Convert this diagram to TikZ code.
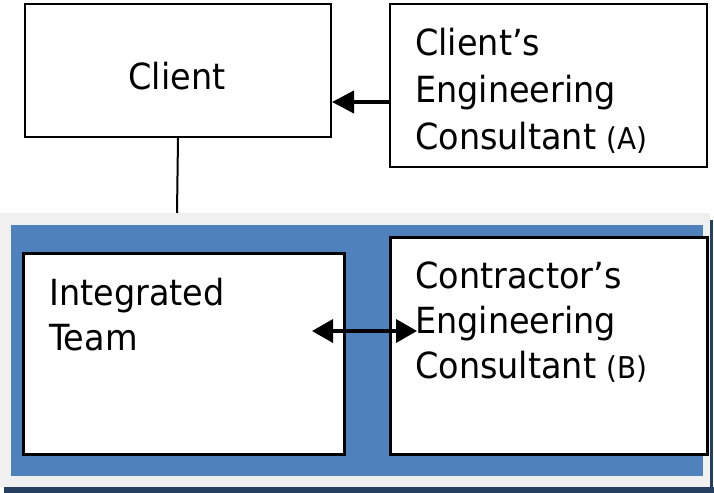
\documentclass[tikz,border=0pt]{standalone}
\usepackage{fontspec}
\setmainfont{DejaVu Sans}[FakeStretch=0.93]
\usetikzlibrary{arrows.meta}
\definecolor{panelblue}{HTML}{4F81BD}
\definecolor{panelgray}{HTML}{F0F0F0}
\definecolor{paneldark}{HTML}{243F60}
\newcommand{\abtag}[1]{{\fontsize{30bp}{30bp}\selectfont #1}}

\begin{document}
\begin{tikzpicture}[x=1bp, y=-1bp,
  box/.style={draw, fill=white, line width=2bp, inner sep=0pt, anchor=north west},
  teambox/.style={box, line width=3bp},
  words/.style={inner sep=0pt, anchor=north west, align=left, font=\fontsize{36bp}{47bp}\selectfont},
  link/.style={line width=4bp, -{Triangle[length=22bp, width=22bp]}},
  twoway/.style={line width=3.5bp, {Triangle[length=21bp, width=23bp]}-{Triangle[length=21bp, width=23bp]}}]
  \useasboundingbox (0,0) rectangle (714,493);
  % shaded panel behind the team
  \fill[paneldark] (4,487) rectangle (714,493);
  \fill[paneldark] (710,220) rectangle (713,493);
  \fill[panelgray] (0,213) rectangle (710,487);
  \fill[panelblue] (11,225) rectangle (703,476);
  \coordinate (paneltop) at (177,213);

  % top row
  \node[box, minimum width=306bp, minimum height=133bp] (client) at (24,3) {};
  \node[font=\fontsize{36bp}{47bp}\selectfont, inner sep=0pt, anchor=base] (clienttxt) at (177,90) {Client};
  \node[box, minimum width=317bp, minimum height=163bp] (consA) at (389,3) {};
  \node[words] (consAtxt) at (415,27.6) {Client’s\\Engineering\\Consultant \abtag{(A)}};

  % team inside the panel
  \node[teambox, minimum width=321bp, minimum height=201bp] (team) at (22,252) {};
  \node[words, font=\fontsize{36bp}{45bp}\selectfont] (teamtxt) at (49,277.6) {Integrated\\Team};
  \node[teambox, minimum width=317bp, minimum height=217bp] (consB) at (389,236) {};
  \node[words, font=\fontsize{36bp}{45bp}\selectfont] (consBtxt) at (415,261.6) {Contractor’s\\Engineering\\Consultant \abtag{(B)}};

  % connectors
  \coordinate (arrowA) at (0,102);
  \coordinate (lefttip) at (312,331);
  \coordinate (righttip) at (417,331);
  \draw[link] (consA.west |- arrowA) -- (client.east |- arrowA);
  \draw[line width=2bp] (client.south) -- (paneltop);
  \draw[twoway] (lefttip) -- (righttip);
\end{tikzpicture}
\end{document}
